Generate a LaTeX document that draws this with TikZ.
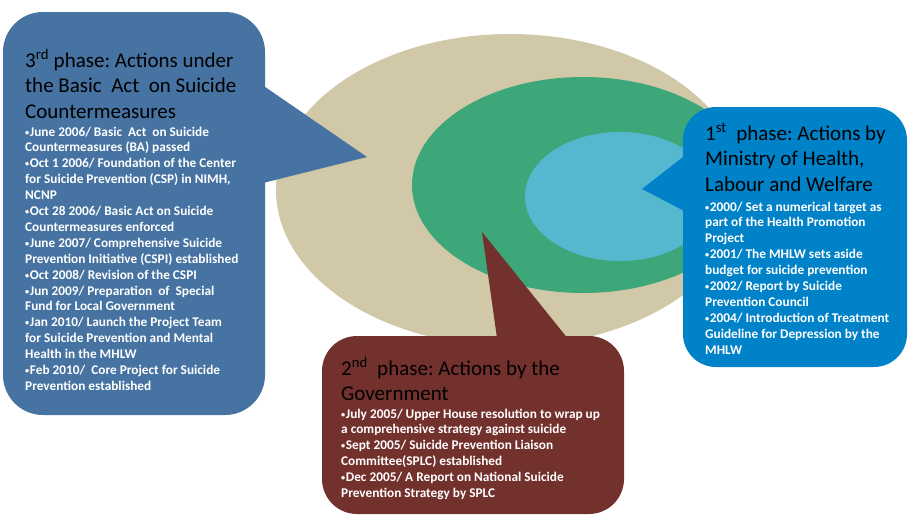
\documentclass[tikz,border=0pt]{standalone}
\usepackage{fontspec}
\setmainfont{Carlito}
\definecolor{beige}{HTML}{D1C8A8}
\definecolor{midgreen}{HTML}{3DA77A}
\definecolor{lightblue}{HTML}{56B8CF}
\definecolor{boxthree}{HTML}{4673A1}
\definecolor{boxone}{HTML}{0082C8}
\definecolor{boxtwo}{HTML}{73312D}
\newcommand{\bul}{\raisebox{0.9pt}{\scalebox{0.62}{•}}\hspace{0.6pt}}
\newcommand{\dsp}{\hspace{0.45em}}
\newcommand{\tightsp}{\frenchspacing\spaceskip=0.226em\relax}
\tikzset{
  titletext/.style={font=\fontsize{21}{25.5}\selectfont, text=black, align=left, inner sep=0pt, text width=260pt, anchor=base west, execute at begin node=\tightsp},
  bodytext/.style={font=\fontsize{13.3}{15.9}\selectfont\bfseries, text=white, align=left, inner sep=0pt, text width=280pt, anchor=base west, execute at begin node=\tightsp}
}
\begin{document}
\begin{tikzpicture}[x=1pt,y=-1pt]
\useasboundingbox (0,0) rectangle (908,515);
% concentric ellipses
\fill[beige] (510,190) ellipse [x radius=234, y radius=156];
\fill[midgreen] (583,185) ellipse [x radius=171, y radius=108];
\fill[lightblue] (620,196.5) ellipse [x radius=95, y radius=64.5];
% 3rd phase callout
\fill[boxthree, rounded corners=40pt] (3,12) rectangle (265,415);
\fill[boxthree] (255,80) -- (367,157) -- (255,185) -- cycle;
% 1st phase callout
\fill[boxone, rounded corners=33pt] (683,107) rectangle (907,367);
\fill[boxone] (692,150) -- (642,189) -- (692,215) -- cycle;
% 2nd phase callout
\fill[boxtwo, rounded corners=35pt] (322,336) rectangle (624,514);
\fill[boxtwo] (498,345) -- (482,232) -- (573,345) -- cycle;
% texts
\node[titletext] (t3) at (25,67) {3\textsuperscript{rd} phase: Actions under\\the Basic\dsp Act\dsp on Suicide\\Countermeasures};
\node[bodytext] (b3) at (25,136) {\bul June 2006/ Basic\dsp Act\dsp on Suicide\\Countermeasures (BA) passed\\\bul Oct 1 2006/ Foundation of the Center\\for Suicide Prevention (CSP) in NIMH,\\NCNP\\\bul Oct 28 2006/ Basic Act on Suicide\\Countermeasures enforced\\\bul June 2007/ Comprehensive Suicide\\Prevention Initiative (CSPI) established\\\bul Oct 2008/ Revision of the CSPI\\\bul Jun 2009/ Preparation\dsp of\dsp Special\\Fund for Local Government\\\bul Jan 2010/ Launch the Project Team\\for Suicide Prevention and Mental\\Health in the MHLW\\\bul Feb 2010/\dsp Core Project for Suicide\\Prevention established};
\node[titletext] (t1) at (705,140) {1\textsuperscript{st}\dsp phase: Actions by\\Ministry of Health,\\Labour and Welfare};
\node[bodytext] (b1) at (705,211) {\bul 2000/ Set a numerical target as\\part of the Health Promotion\\Project\\\bul 2001/ The MHLW sets aside\\budget for suicide prevention\\\bul 2002/ Report by Suicide\\Prevention Council\\\bul 2004/ Introduction of Treatment\\Guideline for Depression by the\\MHLW};
\node[titletext] (t2) at (341,375) {2\textsuperscript{nd}\dsp phase: Actions by the\\Government};
\node[bodytext] (b2) at (341,418) {\bul July 2005/ Upper House resolution to wrap up\\a comprehensive strategy against suicide\\\bul Sept 2005/ Suicide Prevention Liaison\\Committee(SPLC) established\\\bul Dec 2005/ A Report on National Suicide\\Prevention Strategy by SPLC};
\end{tikzpicture}
\end{document}
